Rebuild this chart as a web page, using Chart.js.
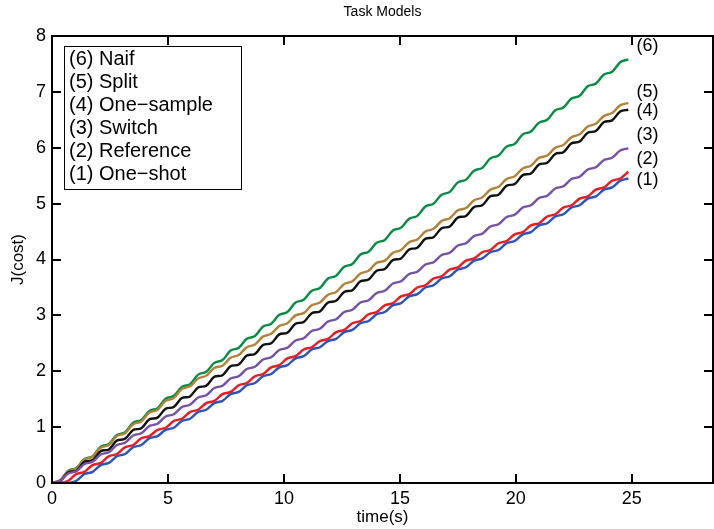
<!DOCTYPE html>
<html>
<head>
<meta charset="utf-8">
<script src="https://cdn.jsdelivr.net/npm/chart.js@4/dist/chart.umd.min.js"></script>
<style>
  html, body { margin: 0; padding: 0; background: #fff; }
  #wrap { width: 714px; height: 529px; }
</style>
</head>
<body>
<div id="wrap"><canvas id="chart" width="714" height="529"></canvas></div>
<script>
// time samples (s), every half wiggle
const times = [0,0.35,0.7,1.05,1.4,1.75,2.1,2.45,2.8,3.15,3.5,3.85,4.2,4.55,4.9,5.25,5.6,5.95,6.3,6.65,7,7.35,7.7,8.05,8.4,8.75,9.1,9.45,9.8,10.15,10.5,10.85,11.2,11.55,11.9,12.25,12.6,12.95,13.3,13.65,14,14.35,14.7,15.05,15.4,15.75,16.1,16.45,16.8,17.15,17.5,17.85,18.2,18.55,18.9,19.25,19.6,19.95,20.3,20.65,21,21.35,21.7,22.05,22.4,22.75,23.1,23.45,23.8,24.15,24.5,24.85];

// J(cost) per model
const naif = [0,0.05,0.22,0.27,0.43,0.48,0.65,0.7,0.86,0.91,1.08,1.13,1.29,1.34,1.51,1.56,1.72,1.77,1.94,1.99,2.15,2.2,2.37,2.42,2.58,2.63,2.8,2.85,3.01,3.06,3.23,3.28,3.44,3.49,3.66,3.71,3.87,3.92,4.09,4.14,4.3,4.35,4.52,4.57,4.73,4.78,4.95,5,5.16,5.21,5.38,5.43,5.59,5.64,5.81,5.86,6.02,6.07,6.24,6.29,6.45,6.5,6.67,6.72,6.88,6.93,7.1,7.15,7.31,7.36,7.53,7.58];
const split = [0,0.05,0.21,0.26,0.42,0.47,0.63,0.68,0.84,0.89,1.05,1.1,1.26,1.31,1.47,1.52,1.68,1.73,1.87,1.92,2.06,2.1,2.24,2.29,2.43,2.48,2.62,2.67,2.81,2.86,3,3.04,3.18,3.23,3.37,3.42,3.56,3.61,3.75,3.8,3.94,3.98,4.12,4.17,4.31,4.36,4.5,4.55,4.69,4.74,4.88,4.92,5.06,5.11,5.25,5.3,5.44,5.49,5.63,5.68,5.82,5.86,6,6.05,6.19,6.24,6.38,6.43,6.57,6.62,6.76,6.8];
const oneSample = [0,0.03,0.19,0.22,0.38,0.41,0.57,0.6,0.76,0.79,0.95,0.98,1.14,1.17,1.33,1.36,1.52,1.55,1.71,1.74,1.9,1.93,2.09,2.12,2.28,2.31,2.47,2.5,2.66,2.69,2.85,2.88,3.04,3.07,3.23,3.26,3.42,3.45,3.61,3.64,3.8,3.83,3.99,4.02,4.18,4.21,4.37,4.4,4.56,4.59,4.75,4.78,4.94,4.97,5.13,5.16,5.32,5.35,5.51,5.54,5.7,5.73,5.89,5.92,6.08,6.11,6.27,6.3,6.46,6.49,6.65,6.68];
const switchModel = [0,0.04,0.17,0.21,0.34,0.38,0.51,0.55,0.68,0.72,0.85,0.89,1.02,1.06,1.19,1.23,1.36,1.4,1.53,1.57,1.7,1.74,1.87,1.91,2.04,2.08,2.21,2.25,2.38,2.42,2.55,2.59,2.72,2.76,2.89,2.93,3.06,3.1,3.23,3.27,3.4,3.44,3.57,3.61,3.74,3.78,3.91,3.95,4.08,4.12,4.25,4.29,4.42,4.46,4.59,4.63,4.76,4.8,4.93,4.97,5.1,5.14,5.27,5.31,5.44,5.48,5.61,5.65,5.78,5.82,5.95,5.99];
const reference = [0,0,0.04,0.16,0.2,0.32,0.36,0.48,0.52,0.64,0.68,0.8,0.84,0.95,0.99,1.11,1.15,1.27,1.31,1.43,1.47,1.59,1.63,1.75,1.79,1.91,1.95,2.07,2.11,2.23,2.27,2.39,2.43,2.54,2.58,2.7,2.74,2.86,2.9,3.02,3.06,3.18,3.22,3.34,3.38,3.5,3.54,3.66,3.7,3.82,3.86,3.98,4.02,4.13,4.17,4.29,4.33,4.45,4.49,4.61,4.65,4.77,4.81,4.93,4.97,5.09,5.13,5.25,5.29,5.41,5.45,5.57];
const oneShot = [0,0,0,0.04,0.16,0.2,0.32,0.36,0.48,0.52,0.64,0.68,0.8,0.84,0.95,0.99,1.11,1.15,1.27,1.31,1.43,1.47,1.59,1.63,1.75,1.79,1.91,1.95,2.07,2.11,2.23,2.27,2.39,2.43,2.54,2.58,2.7,2.74,2.86,2.9,3.02,3.06,3.18,3.22,3.34,3.38,3.5,3.54,3.66,3.7,3.82,3.86,3.98,4.02,4.13,4.17,4.29,4.33,4.45,4.49,4.61,4.65,4.77,4.81,4.93,4.97,5.09,5.13,5.25,5.29,5.41,5.45];

const seriesNames = ['(1) One\u2212shot', '(2) Reference', '(3) Switch', '(4) One\u2212sample', '(5) Split', '(6) Naif'];
const endTags = ['(1)', '(2)', '(3)', '(4)', '(5)', '(6)'];
const endTagY = [5.42, 5.8, 6.22, 6.65, 7.0, 7.82];
const xTicks = [0, 5, 10, 15, 20, 25];
const yTicks = [0, 1, 2, 3, 4, 5, 6, 7, 8];

const seriesData = [oneShot, reference, switchModel, oneSample, split, naif];
const colors = ['#2f55b4', '#ec1c24', '#7452a6', '#111111', '#b3823a', '#0b8a43'];

const FONT = "'Liberation Sans', Arial, Helvetica, sans-serif";

const datasets = seriesData.map((vals, i) => ({
  label: seriesNames[i],
  data: vals.map((v, j) => ({ x: times[j], y: v })),
  borderColor: colors[i],
  borderWidth: 2.4,
  pointRadius: 0,
  tension: 0.35,
  fill: false
}));

// MATLAB-ish box, inward ticks, legend box, title and end tags
const matlabFrame = {
  id: 'matlabFrame',
  afterDraw(chart) {
    const { ctx, chartArea: a, scales: { x, y } } = chart;
    ctx.save();
    ctx.strokeStyle = '#000';
    ctx.lineWidth = 2;
    ctx.strokeRect(a.left, a.top, a.right - a.left, a.bottom - a.top);

    // inward tick marks on all four sides
    ctx.fillStyle = '#000';
    for (const t of xTicks) {
      const px = Math.round(x.getPixelForValue(t)) - 1;
      ctx.fillRect(px, a.bottom - 9, 2, 9);
      ctx.fillRect(px, a.top, 2, 9);
    }
    for (const t of yTicks) {
      const py = Math.round(y.getPixelForValue(t)) - 1;
      ctx.fillRect(a.left, py, 9, 2);
      ctx.fillRect(a.right - 9, py, 9, 2);
    }

    // title
    ctx.font = '14px ' + FONT;
    ctx.textAlign = 'center';
    ctx.textBaseline = 'middle';
    ctx.fillText('Task Models', (a.left + a.right) / 2, 12);

    // tags at the line ends
    ctx.font = '18px ' + FONT;
    ctx.textAlign = 'left';
    endTags.forEach((tag, i) => {
      ctx.fillText(tag, x.getPixelForValue(25.2), y.getPixelForValue(endTagY[i]));
    });

    // legend (text only, reversed order)
    const lx = 64, ly = 46, lw = 177, lh = 143;
    ctx.fillStyle = '#fff';
    ctx.fillRect(lx, ly, lw, lh);
    ctx.strokeStyle = '#000';
    ctx.lineWidth = 1;
    ctx.strokeRect(lx + 0.5, ly + 0.5, lw, lh);
    ctx.fillStyle = '#000';
    ctx.font = '20px ' + FONT;
    const names = seriesNames.slice().reverse();
    names.forEach((n, i) => {
      ctx.fillText(n, lx + 5, ly + 13 + i * 23);
    });

    // x tick labels, drawn here so they sit where the reference has them
    ctx.font = '18px ' + FONT;
    ctx.textAlign = 'center';
    ctx.textBaseline = 'top';
    for (const t of xTicks) {
      ctx.fillText(String(t), x.getPixelForValue(t), a.bottom + 7);
    }
    ctx.restore();
  }
};

new Chart(document.getElementById('chart'), {
  type: 'line',
  data: { datasets },
  plugins: [matlabFrame],
  options: {
    responsive: false,
    animation: false,
    events: [],
    layout: { padding: { top: 36, right: 1, left: 0, bottom: 0 } },
    plugins: {
      legend: { display: false },
      tooltip: { enabled: false },
      title: { display: false }
    },
    scales: {
      x: {
        type: 'linear',
        min: 0,
        max: 28.5,
        afterFit(scale) { scale.height = 46; },
        afterBuildTicks(scale) { scale.ticks = xTicks.map(v => ({ value: v })); },
        grid: { display: false, drawTicks: false },
        border: { display: false },
        ticks: { display: false },
        title: {
          display: true,
          text: 'time(s)',
          color: '#000',
          font: { family: FONT, size: 17 },
          padding: { top: 0, bottom: 1 }
        }
      },
      y: {
        min: 0,
        max: 8,
        afterFit(scale) { scale.width = 52; },
        afterBuildTicks(scale) { scale.ticks = yTicks.map(v => ({ value: v })); },
        grid: { display: false, drawTicks: false },
        border: { display: false },
        ticks: {
          padding: 6,
          color: '#000',
          font: { family: FONT, size: 18 }
        },
        title: {
          display: true,
          text: 'J(cost)',
          color: '#000',
          font: { family: FONT, size: 17 },
          padding: { top: 8, bottom: 0 }
        }
      }
    }
  }
});
</script>
</body>
</html>
